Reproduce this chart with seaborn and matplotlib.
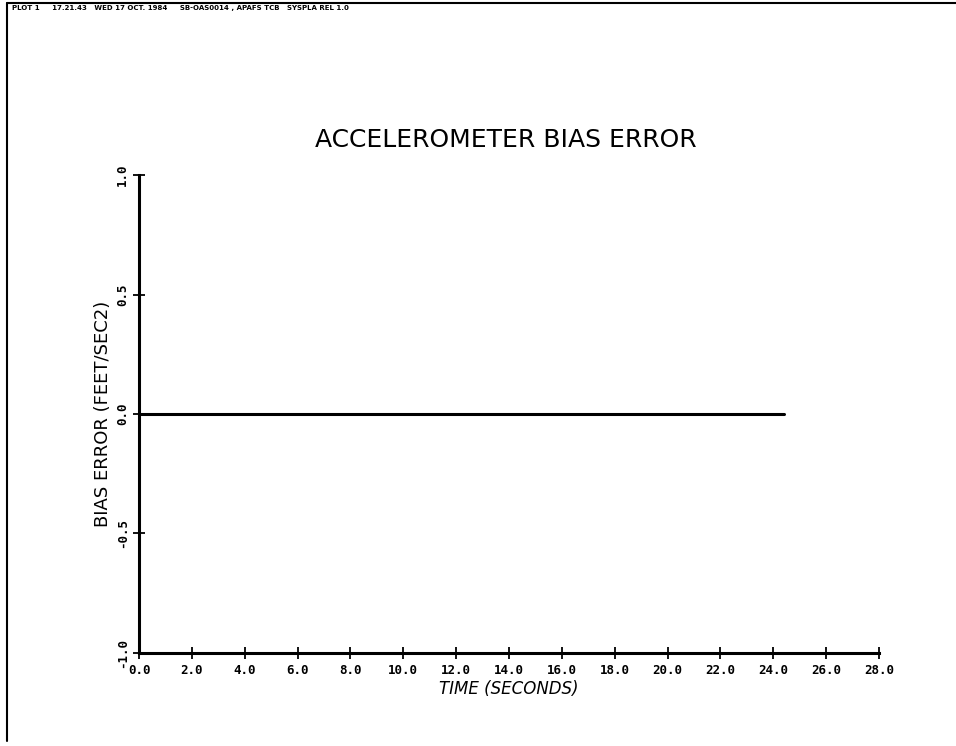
import matplotlib
matplotlib.use("Agg")
import matplotlib.pyplot as plt
import seaborn as sns
import pandas as pd

# data
czas = [0.0, 24.4]
blad = [0.0, 0.0]
xticks = [0, 2, 4, 6, 8, 10, 12, 14, 16, 18, 20, 22, 24, 26, 28]
yticks = [-1.0, -0.5, 0.0, 0.5, 1.0]

sns.set_style("ticks")
plt.rcParams['font.family'] = ['DejaVu Sans']
plt.rcParams['text.color'] = 'black'
plt.rcParams['axes.labelcolor'] = 'black'
plt.rcParams['xtick.color'] = 'black'
plt.rcParams['ytick.color'] = 'black'

dane = pd.DataFrame({'czas': czas, 'blad': blad})

fig = plt.figure(figsize=(9.56, 7.46), dpi=100)
ax = fig.add_axes([0.1454, 0.1247, 0.774, 0.6407])
sns.lineplot(data=dane, x='czas', y='blad', color='black', linewidth=2.2, ax=ax)

ax.set_xlim(0, 28)
ax.set_ylim(-1, 1)
ax.set_xticks(xticks)
ax.set_xticklabels(["%.1f" % t for t in xticks], fontsize=9, family='DejaVu Sans Mono', fontweight='bold')
ax.set_yticks(yticks)
ax.set_yticklabels(["%.1f" % t for t in yticks], fontsize=9, family='DejaVu Sans Mono', fontweight='bold',
                   rotation=90, va='center')
ax.tick_params(axis='x', direction='inout', length=8, width=1.3, pad=4)
ax.tick_params(axis='y', direction='inout', length=8, width=1.3, pad=3)
for s in ['top', 'right']:
    ax.spines[s].set_visible(False)
for s in ['left', 'bottom']:
    ax.spines[s].set_color('black')
    ax.spines[s].set_linewidth(2.2)

ax.set_xlabel("TIME (SECONDS)", fontsize=12, style='italic', labelpad=2)
ax.set_ylabel("BIAS ERROR (FEET/SEC2)", fontsize=13, labelpad=3)
fig.text(0.529, 0.8123, "ACCELEROMETER BIAS ERROR", fontsize=18, ha='center', va='center')

# ramka i naglowek wydruku
fig.add_artist(plt.Line2D([0.007, 1.0], [0.996, 0.996], color='black', linewidth=1.5))
fig.add_artist(plt.Line2D([0.007, 0.007], [0.996, 0.007], color='black', linewidth=1.5))
fig.text(0.013, 0.989, "PLOT 1     17.21.43   WED 17 OCT. 1984     SB-OAS0014 , APAFS TCB   SYSPLA REL 1.0",
         fontsize=5, fontweight='bold', va='center')

fig.savefig("out.png", dpi=100)
